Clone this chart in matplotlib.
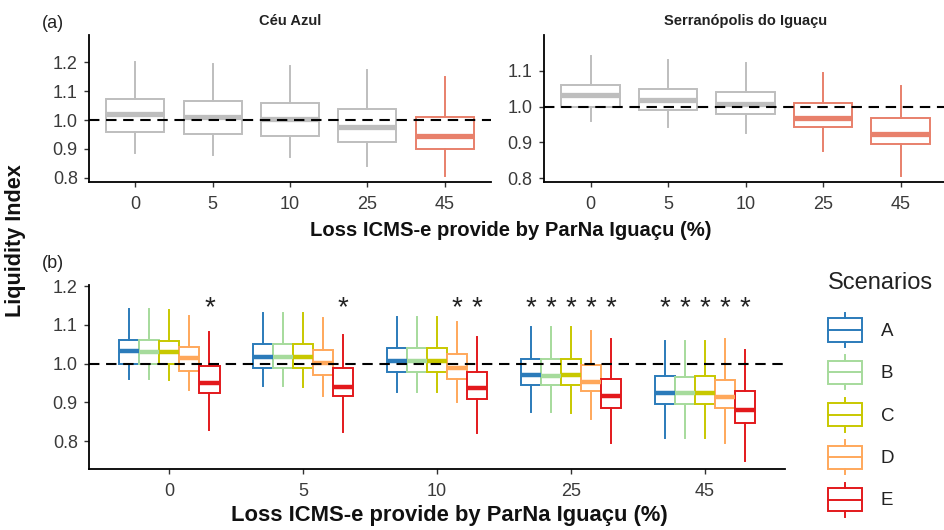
"""Liquidity index box plots: per-municipality (a) and per-scenario (b)."""

import matplotlib

matplotlib.use("Agg")
import matplotlib.pyplot as plt
from matplotlib.legend_handler import HandlerBase
from matplotlib.lines import Line2D
from matplotlib.patches import Patch, Rectangle
from matplotlib.transforms import offset_copy

plt.rcParams["font.family"] = ["Liberation Sans", "DejaVu Sans"]

# ---- data ----
loss_levels = ["0", "5", "10", "25", "45"]

ceu_whislo = [0.887, 0.879, 0.871, 0.842, 0.806]
ceu_q1 = [0.957, 0.950, 0.946, 0.925, 0.899]
ceu_med = [1.020, 1.012, 1.002, 0.977, 0.945]
ceu_q3 = [1.073, 1.066, 1.058, 1.038, 1.009]
ceu_whishi = [1.200, 1.193, 1.188, 1.173, 1.150]
ceu_highlight = [False, False, False, False, True]

serra_whislo = [0.960, 0.943, 0.926, 0.875, 0.808]
serra_q1 = [1.000, 0.991, 0.979, 0.944, 0.896]
serra_med = [1.031, 1.019, 1.007, 0.968, 0.924]
serra_q3 = [1.060, 1.049, 1.040, 1.009, 0.968]
serra_whishi = [1.141, 1.130, 1.122, 1.094, 1.057]
serra_highlight = [False, False, False, True, True]

scenarios = ["A", "B", "C", "D", "E"]
scen_whislo = {
    "A": [0.960, 0.943, 0.928, 0.876, 0.809],
    "B": [0.960, 0.943, 0.927, 0.876, 0.809],
    "C": [0.958, 0.940, 0.927, 0.874, 0.808],
    "D": [0.932, 0.918, 0.902, 0.857, 0.795],
    "E": [0.829, 0.825, 0.821, 0.796, 0.750],
}
scen_q1 = {
    "A": [1.000, 0.990, 0.979, 0.945, 0.896],
    "B": [1.000, 0.990, 0.979, 0.945, 0.896],
    "C": [1.000, 0.990, 0.979, 0.945, 0.896],
    "D": [0.981, 0.971, 0.961, 0.930, 0.885],
    "E": [0.925, 0.918, 0.910, 0.887, 0.848],
}
scen_med = {
    "A": [1.033, 1.018, 1.007, 0.970, 0.924],
    "B": [1.031, 1.017, 1.006, 0.968, 0.924],
    "C": [1.031, 1.017, 1.006, 0.970, 0.924],
    "D": [1.014, 1.001, 0.990, 0.952, 0.915],
    "E": [0.949, 0.941, 0.937, 0.917, 0.881],
}
scen_q3 = {
    "A": [1.061, 1.051, 1.040, 1.011, 0.968],
    "B": [1.061, 1.051, 1.040, 1.011, 0.966],
    "C": [1.059, 1.050, 1.040, 1.011, 0.968],
    "D": [1.044, 1.035, 1.025, 0.996, 0.958],
    "E": [0.994, 0.988, 0.979, 0.961, 0.930],
}
scen_whishi = {
    "A": [1.140, 1.131, 1.121, 1.094, 1.059],
    "B": [1.140, 1.131, 1.121, 1.094, 1.059],
    "C": [1.138, 1.131, 1.121, 1.094, 1.059],
    "D": [1.124, 1.117, 1.108, 1.083, 1.063],
    "E": [1.082, 1.074, 1.068, 1.064, 1.034],
}
# asterisk = significant difference
scen_signif = {
    "A": [False, False, False, True, True],
    "B": [False, False, False, True, True],
    "C": [False, False, False, True, True],
    "D": [False, False, True, True, True],
    "E": [True, True, True, True, True],
}
star_level = 1.156

GREY = "#BEBEBE"
SALMON = "#E8806B"
scen_colors = {"A": "#2B7BBA", "B": "#A6DB9C", "C": "#C8C800", "D": "#FFA85B", "E": "#E3191C"}
TEXT = "#3A3A3A"

W, H = 944, 530


def px_axes(fig, left, right, top, bottom):
    return fig.add_axes([left / W, 1 - bottom / H, (right - left) / W, (bottom - top) / H])


def style_axis(ax):
    for side in ("top", "right"):
        ax.spines[side].set_visible(False)
    for side in ("left", "bottom"):
        ax.spines[side].set_linewidth(1.3)
        ax.spines[side].set_color("black")
    ax.tick_params(length=3.6, width=1.0, color="#333333", labelsize=13, labelcolor=TEXT)
    ax.tick_params(axis="x", pad=6.5)
    ax.tick_params(axis="y", pad=4.5)
    ax.set_facecolor("white")


def draw_box(ax, pos, width, stat, color, med_lw):
    return ax.bxp(
        [stat],
        positions=[pos],
        widths=width,
        showcaps=False,
        showfliers=False,
        patch_artist=True,
        manage_ticks=False,
        boxprops=dict(facecolor="white", edgecolor=color, linewidth=1.4),
        whiskerprops=dict(color=color, linewidth=1.4),
        medianprops=dict(color=color, linewidth=med_lw, solid_capstyle="butt"),
    )


def make_stat(lo, q1, med, q3, hi):
    return dict(whislo=lo, q1=q1, med=med, q3=q3, whishi=hi, fliers=[])


def panel_a(ax, lo, q1, med, q3, hi, highlight, ylim, yticks, title):
    style_axis(ax)
    for i in range(len(loss_levels)):
        color = SALMON if highlight[i] else GREY
        draw_box(ax, i + 1, 0.75, make_stat(lo[i], q1[i], med[i], q3[i], hi[i]), color, 3.8)
    ax.axhline(1.0, color="black", linewidth=1.5, linestyle=(0, (5, 3.2)), zorder=5)
    ax.set_xlim(0.4, 5.6)
    ax.set_ylim(*ylim)
    ax.set_xticks(range(1, len(loss_levels) + 1))
    ax.set_xticklabels(loss_levels)
    ax.set_yticks(yticks)
    ax.set_yticklabels([f"{t:.1f}" for t in yticks])
    ax.set_title(title, fontsize=10.5, fontweight="bold", color="#222222", pad=7.5)


class BoxKey(HandlerBase):
    def create_artists(self, legend, orig_handle, xdescent, ydescent, width, height, fontsize, trans):
        color = orig_handle.get_edgecolor()
        x0, y0 = -xdescent, -ydescent
        b0, b1 = y0 + 0.16 * height, y0 + 0.84 * height
        xc = x0 + width / 2
        rect = Rectangle((x0, b0), width, b1 - b0, facecolor="white", edgecolor=color, linewidth=1.4, transform=trans)
        med = Line2D([x0, x0 + width], [(b0 + b1) / 2] * 2, color=color, linewidth=1.4, transform=trans)
        w_lo = Line2D([xc, xc], [y0, b0], color=color, linewidth=1.4, transform=trans)
        w_hi = Line2D([xc, xc], [b1, y0 + height], color=color, linewidth=1.4, transform=trans)
        return [rect, med, w_lo, w_hi]


fig = plt.figure(figsize=(W / 100, H / 100), dpi=100, facecolor="white")

ax1 = px_axes(fig, 89, 491, 35, 182)
panel_a(ax1, ceu_whislo, ceu_q1, ceu_med, ceu_q3, ceu_whishi, ceu_highlight,
        (0.785, 1.295), [0.8, 0.9, 1.0, 1.1, 1.2], "Céu Azul")

ax2 = px_axes(fig, 544, 947, 35, 182)
panel_a(ax2, serra_whislo, serra_q1, serra_med, serra_q3, serra_whishi, serra_highlight,
        (0.790, 1.199), [0.8, 0.9, 1.0, 1.1], "Serranópolis do Iguaçu")

ax3 = px_axes(fig, 89, 785, 285, 469)
style_axis(ax3)
star_trans = offset_copy(ax3.transData, fig=fig, y=-5, units="dots")
offsets = [-0.3, -0.15, 0.0, 0.15, 0.3]
for j, s in enumerate(scenarios):
    for i in range(len(loss_levels)):
        stat = make_stat(scen_whislo[s][i], scen_q1[s][i], scen_med[s][i], scen_q3[s][i], scen_whishi[s][i])
        draw_box(ax3, i + 1 + offsets[j], 0.15, stat, scen_colors[s], 3.2)
        if scen_signif[s][i]:
            ax3.text(i + 1 + offsets[j], star_level, "*", ha="center", va="center",
                     fontsize=20, color="#222222", transform=star_trans)
ax3.axhline(1.0, color="black", linewidth=1.5, linestyle=(0, (5, 3.2)), zorder=5)
ax3.set_xlim(0.4, 5.6)
ax3.set_ylim(0.7286, 1.2028)
ax3.set_xticks(range(1, len(loss_levels) + 1))
ax3.set_xticklabels(loss_levels)
ax3.set_yticks([0.8, 0.9, 1.0, 1.1, 1.2])
ax3.set_yticklabels(["0.8", "0.9", "1.0", "1.1", "1.2"])

handles = [Patch(edgecolor=scen_colors[s], facecolor="white") for s in scenarios]
leg = fig.legend(
    handles, scenarios, loc="upper left",
    bbox_to_anchor=(828 / W, 1 - 313 / H), frameon=False,
    handler_map={Patch: BoxKey()}, fontsize=13.5,
    handlelength=1.8, handleheight=2.41, labelspacing=0.45, handletextpad=1.0,
    borderpad=0, borderaxespad=0,
)
for t in leg.get_texts():
    t.set_color("#222222")
fig.text(828 / W, 1 - 283 / H, "Scenarios", ha="left", va="center", fontsize=17, color="#222222")

fig.text(511 / W, 1 - 231 / H, "Loss ICMS-e provide by ParNa Iguaçu (%)", ha="center", va="center",
         fontsize=14.6, fontweight="bold", color="#111111")
fig.text(449 / W, 1 - 515 / H, "Loss ICMS-e provide by ParNa Iguaçu (%)", ha="center", va="center",
         fontsize=15.8, fontweight="bold", color="#111111")
fig.text(16 / W, 1 - 241 / H, "Liquidity Index", rotation=90, ha="center", va="center",
         fontsize=15.6, fontweight="bold", color="#111111")
fig.text(42 / W, 1 - 23 / H, "(a)", ha="left", va="center", fontsize=13, color="#222222")
fig.text(42 / W, 1 - 264 / H, "(b)", ha="left", va="center", fontsize=13, color="#222222")

fig.savefig("out.png", dpi=100, facecolor="white")
